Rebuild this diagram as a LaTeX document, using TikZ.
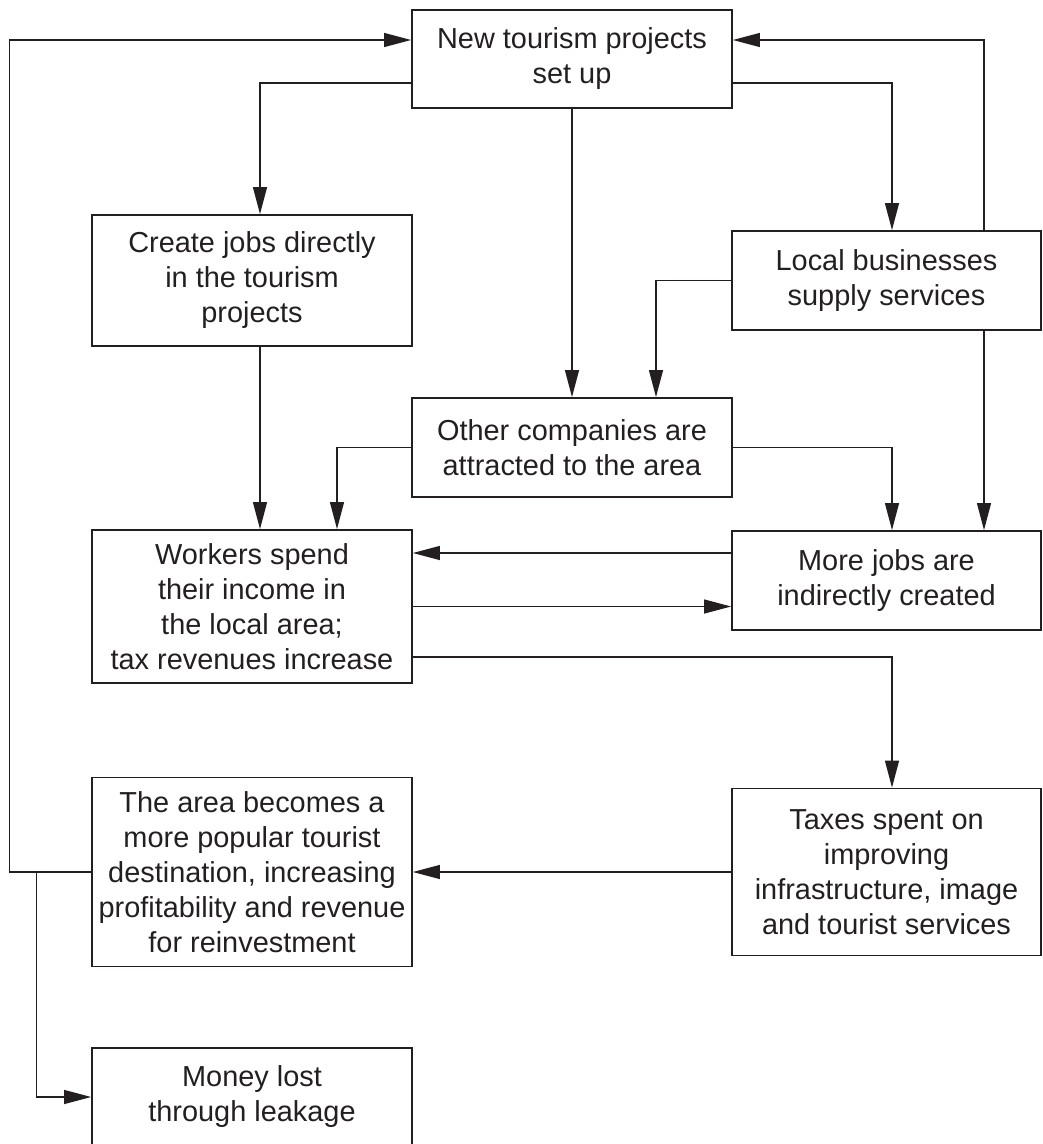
\documentclass[tikz,border=0pt]{standalone}
\usepackage{fontspec}
\setmainfont{Liberation Sans}
\usepackage{tikz}
\usetikzlibrary{
  arrows.meta
}
\definecolor{ink}{HTML}{231F20}
\tikzset{>={Triangle[length=27pt,width=14pt]}}

\begin{document}
\begin{tikzpicture}[x=1pt,y=-1pt,
  box/.style={draw=ink,line width=1.8pt,align=center,text=ink,inner sep=4pt,
    font=\fontsize{28.9pt}{35pt}\selectfont},
  wide/.style={box,minimum width=320pt},
  narrow/.style={box,minimum width=309pt},
  flow/.style={->,draw=ink,line width=1.2pt}]
\useasboundingbox (0,0) rectangle (1043,1144);
\node[wide,minimum height=98pt] (new) at (572,59) {New tourism projects\\set up};
\node[wide,minimum height=131pt] (create) at (252,280.5) {Create jobs directly\\in the tourism\\projects};
\node[narrow,minimum height=99pt] (local) at (886.5,280.5) {Local businesses\\supply services};
\node[wide,minimum height=99pt] (other) at (572,447.5) {Other companies are\\attracted to the area};
\node[wide,minimum height=153pt] (workers) at (252,606.5) {Workers spend\\their income in\\the local area;\\tax revenues increase};
\node[narrow,minimum height=99pt] (more) at (886.5,580.5) {More jobs are\\indirectly created};
\node[wide,minimum height=189pt] (area) at (252,872) {The area becomes a\\more popular tourist\\destination, increasing\\profitability and revenue\\for reinvestment};
\node[narrow,minimum height=167pt] (taxes) at (886.5,872) {Taxes spent on\\improving\\infrastructure, image\\and tourist services};
\node[wide,minimum height=98pt] (money) at (252,1097) {Money lost\\through leakage};

\draw[flow] (area.west) -- ++(-82,0) |- ([yshift=19]new.west);
\draw[flow] ([xshift=-55]area.west) |- (money.west);
\draw[flow] ([yshift=-24]new.west) -| ([xshift=8]create.north);
\draw[flow] (new.south) -- (other.north);
\draw[flow] ([yshift=-24]new.east) -| ([xshift=5.5]local.north);
\draw[flow] ([xshift=97.5]local.north) |- ([yshift=19]new.east);
\draw[flow] (local.west) -| ([xshift=84]other.north);
\draw[flow] ([xshift=97.5]local.south) -- ([xshift=97.5]more.north);
\draw[flow] ([xshift=8]create.south) -- ([xshift=8]workers.north);
\draw[flow] (other.west) -| ([xshift=85]workers.north);
\draw[flow] (other.east) -| ([xshift=5.5]more.north);
\draw[flow] ([yshift=27.5]more.west) -- ([yshift=53.5]workers.east);
\draw[flow] (workers.east) -- ([yshift=-26]more.west);
\draw[flow] ([yshift=-50.5]workers.east) -| ([xshift=5.5]taxes.north);
\draw[flow] (taxes.west) -- (area.east);
\end{tikzpicture}
\end{document}
